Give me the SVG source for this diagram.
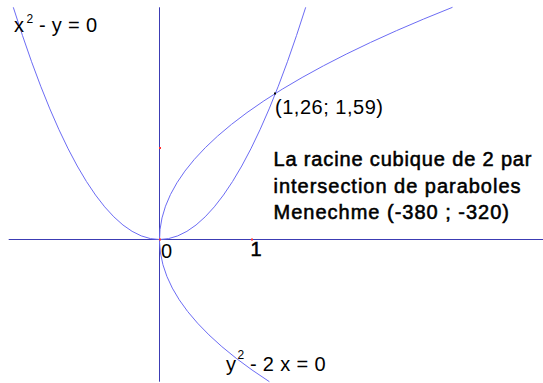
<svg xmlns="http://www.w3.org/2000/svg" width="543" height="383" viewBox="0 0 543 383">
<style>
.axis{stroke:#3c3cb4;stroke-width:1;fill:none}
.curve{stroke:#6c6cf4;stroke-width:1;fill:none}
text{font-family:"Liberation Sans",Arial,sans-serif;fill:#000}
.t{font-size:20px}
.sup{font-size:12px}
.b{font-size:20px;stroke:#000;stroke-width:0.55}
</style>
<rect width="543" height="383" fill="#fff"/>
<g id="axes">
<line class="axis" x1="8.7" y1="239.5" x2="543" y2="239.5"/>
<line class="axis" x1="159.5" y1="7.3" x2="159.5" y2="381.7"/>
</g>
<g id="curves">
<path id="parabola1" class="curve" d="M13.3,7.3 Q159.5,471.7 305.7,7.3"/>
<path id="parabola2" class="curve" d="M269.4,381.7 Q-20,194.5 452.5,7.3"/>
</g>
<g id="points">
<rect x="159" y="147" width="2" height="2" fill="#ff3030"/>
<rect x="251" y="238.5" width="2" height="2" fill="#ff3030"/>
<rect x="159" y="238.5" width="2" height="2" fill="#ff3030"/>
<rect x="274" y="92.5" width="2" height="2" fill="#000"/>
</g>
<g id="labels">
<text class="t" x="14" y="32">x</text>
<text class="sup" x="26.5" y="23">2</text>
<text class="t" x="33" y="32" textLength="64" lengthAdjust="spacing" xml:space="preserve"> - y = 0</text>
<text class="t" x="226" y="370.7">y</text>
<text class="sup" x="237.5" y="358.5">2</text>
<text class="t" x="244" y="370.7" textLength="81.5" lengthAdjust="spacing" xml:space="preserve"> - 2 x = 0</text>
<text class="t" x="161" y="257.5">0</text>
<text class="b" x="250.5" y="255.5">1</text>
<text class="t" x="275" y="114" textLength="108" lengthAdjust="spacing">(1,26; 1,59)</text>
<text class="b" x="273.5" y="165.7" textLength="258" lengthAdjust="spacing">La racine cubique de 2 par</text>
<text class="b" x="273.5" y="192.7" textLength="247" lengthAdjust="spacing">intersection de paraboles</text>
<text class="b" x="273.5" y="219" textLength="235.5" lengthAdjust="spacing">Menechme (-380 ; -320)</text>
</g>
</svg>
